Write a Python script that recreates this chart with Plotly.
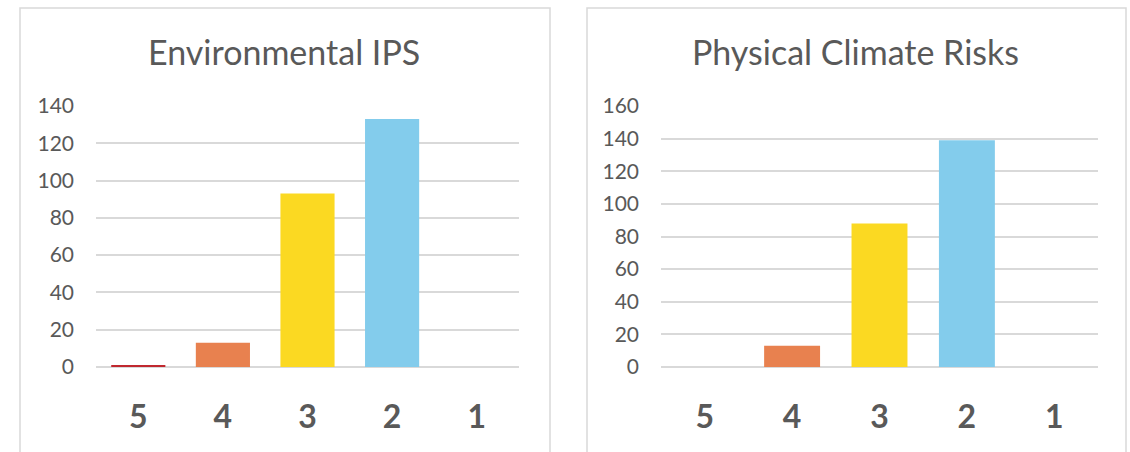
import plotly.graph_objects as go

categories = ["5", "4", "3", "2", "1"]
env_ips = [1, 13, 93, 133, 0]
phys_risk = [0, 13, 88, 139, 0]
bar_colors = ["#C0282F", "#E8814F", "#FBD922", "#83CCEC", "#A9A9A9"]
titles = ["Environmental IPS", "Physical Climate Risks"]

W, H = 1130, 452
fig = go.Figure()

fig.add_trace(go.Bar(x=categories, y=env_ips, marker=dict(color=bar_colors, line=dict(width=0)),
                     xaxis="x", yaxis="y", showlegend=False))
fig.add_trace(go.Bar(x=categories, y=phys_risk, marker=dict(color=bar_colors, line=dict(width=0)),
                     xaxis="x2", yaxis="y2", showlegend=False))

ydom = [1 - 367 / H, 1 - 106 / H]
font_col = "#595959"
grid_col = "#D9D9D9"

def xaxis(dom, anchor):
    return dict(domain=dom, anchor=anchor, type="category", showgrid=False, zeroline=False,
                showline=False, ticks="", ticklabelstandoff=28, automargin=False,
                tickfont=dict(family="Lato", size=32, color=font_col, weight="bold"))

def yaxis(rng, dtick, anchor):
    return dict(domain=ydom, anchor=anchor, range=rng, dtick=dtick, showgrid=True,
                gridcolor=grid_col, gridwidth=1.5, zeroline=True, zerolinecolor=grid_col,
                zerolinewidth=1.5, showline=False, ticks="", ticklabelstandoff=21,
                automargin=False, tickfont=dict(family="Lato", size=21, color=font_col))

fig.update_layout(
    width=W, height=H,
    margin=dict(l=0, r=0, t=0, b=0, pad=0),
    paper_bgcolor="white", plot_bgcolor="white",
    bargap=0.36,
    xaxis=xaxis([96 / W, 519 / W], "y"),
    yaxis=yaxis([0, 140], 20, "x"),
    xaxis2=xaxis([661 / W, 1098 / W], "y2"),
    yaxis2=yaxis([0, 160], 20, "x2"),
    shapes=[
        dict(type="rect", xref="paper", yref="paper", x0=20 / W, x1=550 / W, y0=-0.05, y1=1 - 8 / H,
             line=dict(color=grid_col, width=1.5), layer="below"),
        dict(type="rect", xref="paper", yref="paper", x0=587 / W, x1=1126 / W, y0=-0.05, y1=1 - 8 / H,
             line=dict(color=grid_col, width=1.5), layer="below"),
    ],
    annotations=[
        dict(text=titles[0], x=284 / W, y=1 - 52 / H, xref="paper", yref="paper", showarrow=False,
             xanchor="center", yanchor="middle", font=dict(family="Lato", size=34, color=font_col)),
        dict(text=titles[1], x=855 / W, y=1 - 52 / H, xref="paper", yref="paper", showarrow=False,
             xanchor="center", yanchor="middle", font=dict(family="Lato", size=34, color=font_col)),
    ],
)

fig.write_html("out.html")
